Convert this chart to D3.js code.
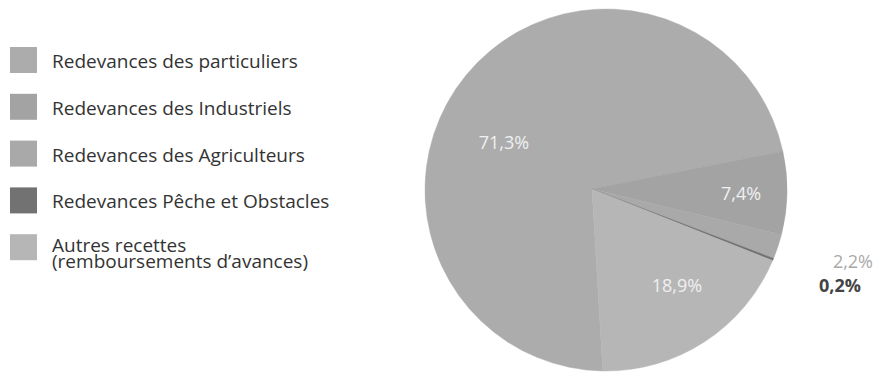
<!DOCTYPE html>
<html lang="fr">
<head>
    <meta charset="UTF-8">
    <title>Recettes</title>
    <script src="https://d3js.org/d3.v7.min.js"></script>
    <style>
        body { margin: 0; background: #fff; }
        svg { display: block; font-family: "Open Sans", sans-serif; }
    </style>
</head>
<body>
    <svg></svg>
    <script>
        // Data
        const categories = [
            "Redevances des particuliers",
            "Redevances des Industriels",
            "Redevances des Agriculteurs",
            "Redevances Pêche et Obstacles",
            "Autres recettes\n(remboursements d’avances)"
        ];
        const values = [71.3, 7.4, 2.2, 0.2, 18.9];
        const labels = ["71,3%", "7,4%", "2,2%", "0,2%", "18,9%"];
        const colors = ["#acacac", "#a3a3a3", "#a9a9a9", "#727272", "#b6b6b6"];

        const width = 878, height = 374;
        const svg = d3.select("svg")
            .attr("width", width)
            .attr("height", height);

        // Pie: circle centre and the (slightly offset) apex where slices meet
        const cx = 606, cy = 190, r = 181;
        const apex = [592, 189];

        const pie = d3.pie()
            .sort(null)
            .value(d => d)
            .startAngle(181 * Math.PI / 180)
            .endAngle(181 * Math.PI / 180 + 2 * Math.PI);
        const arcs = pie(values);

        function slicePath(d) {
            const p = d3.path();
            p.moveTo(apex[0], apex[1]);
            p.arc(cx, cy, r, d.startAngle - Math.PI / 2, d.endAngle - Math.PI / 2);
            p.closePath();
            return p.toString();
        }

        svg.append("g")
            .selectAll("path")
            .data(arcs)
            .enter()
            .append("path")
            .attr("d", slicePath)
            .attr("fill", (d, i) => colors[i])
            .attr("stroke", (d, i) => colors[i])
            .attr("stroke-width", 0.5);

        // Percent labels (inside ones in white, small ones outside)
        const labelPos = [
            {x: 504, y: 149, fill: "#f0f0f0", anchor: "middle", weight: 400},
            {x: 741, y: 200, fill: "#f0f0f0", anchor: "middle", weight: 400},
            {x: 873, y: 268, fill: "#a9a9a9", anchor: "end", weight: 400},
            {x: 861, y: 292, fill: "#444444", anchor: "end", weight: 700},
            {x: 677, y: 292, fill: "#f0f0f0", anchor: "middle", weight: 400}
        ];
        svg.append("g")
            .selectAll("text")
            .data(labels)
            .enter()
            .append("text")
            .attr("x", (d, i) => labelPos[i].x)
            .attr("y", (d, i) => labelPos[i].y)
            .attr("text-anchor", (d, i) => labelPos[i].anchor)
            .attr("fill", (d, i) => labelPos[i].fill)
            .attr("font-weight", (d, i) => labelPos[i].weight)
            .attr("font-size", 18)
            .text(d => d);

        // Legend
        const legend = svg.append("g")
            .attr("transform", "translate(10, 47)");
        const row = legend.selectAll("g")
            .data(categories)
            .enter()
            .append("g")
            .attr("transform", (d, i) => `translate(0, ${i * 46.8})`);
        row.append("rect")
            .attr("width", 27)
            .attr("height", 26)
            .attr("fill", (d, i) => colors[i]);
        row.append("text")
            .attr("x", 42)
            .attr("y", (d) => d.includes("\n") ? 18 : 21)
            .attr("fill", "#333")
            .attr("font-size", 19)
            .selectAll("tspan")
            .data(d => d.split("\n"))
            .enter()
            .append("tspan")
            .attr("x", 42)
            .attr("dy", (d, i) => i === 0 ? 0 : 16)
            .text(d => d);
    </script>
</body>
</html>
